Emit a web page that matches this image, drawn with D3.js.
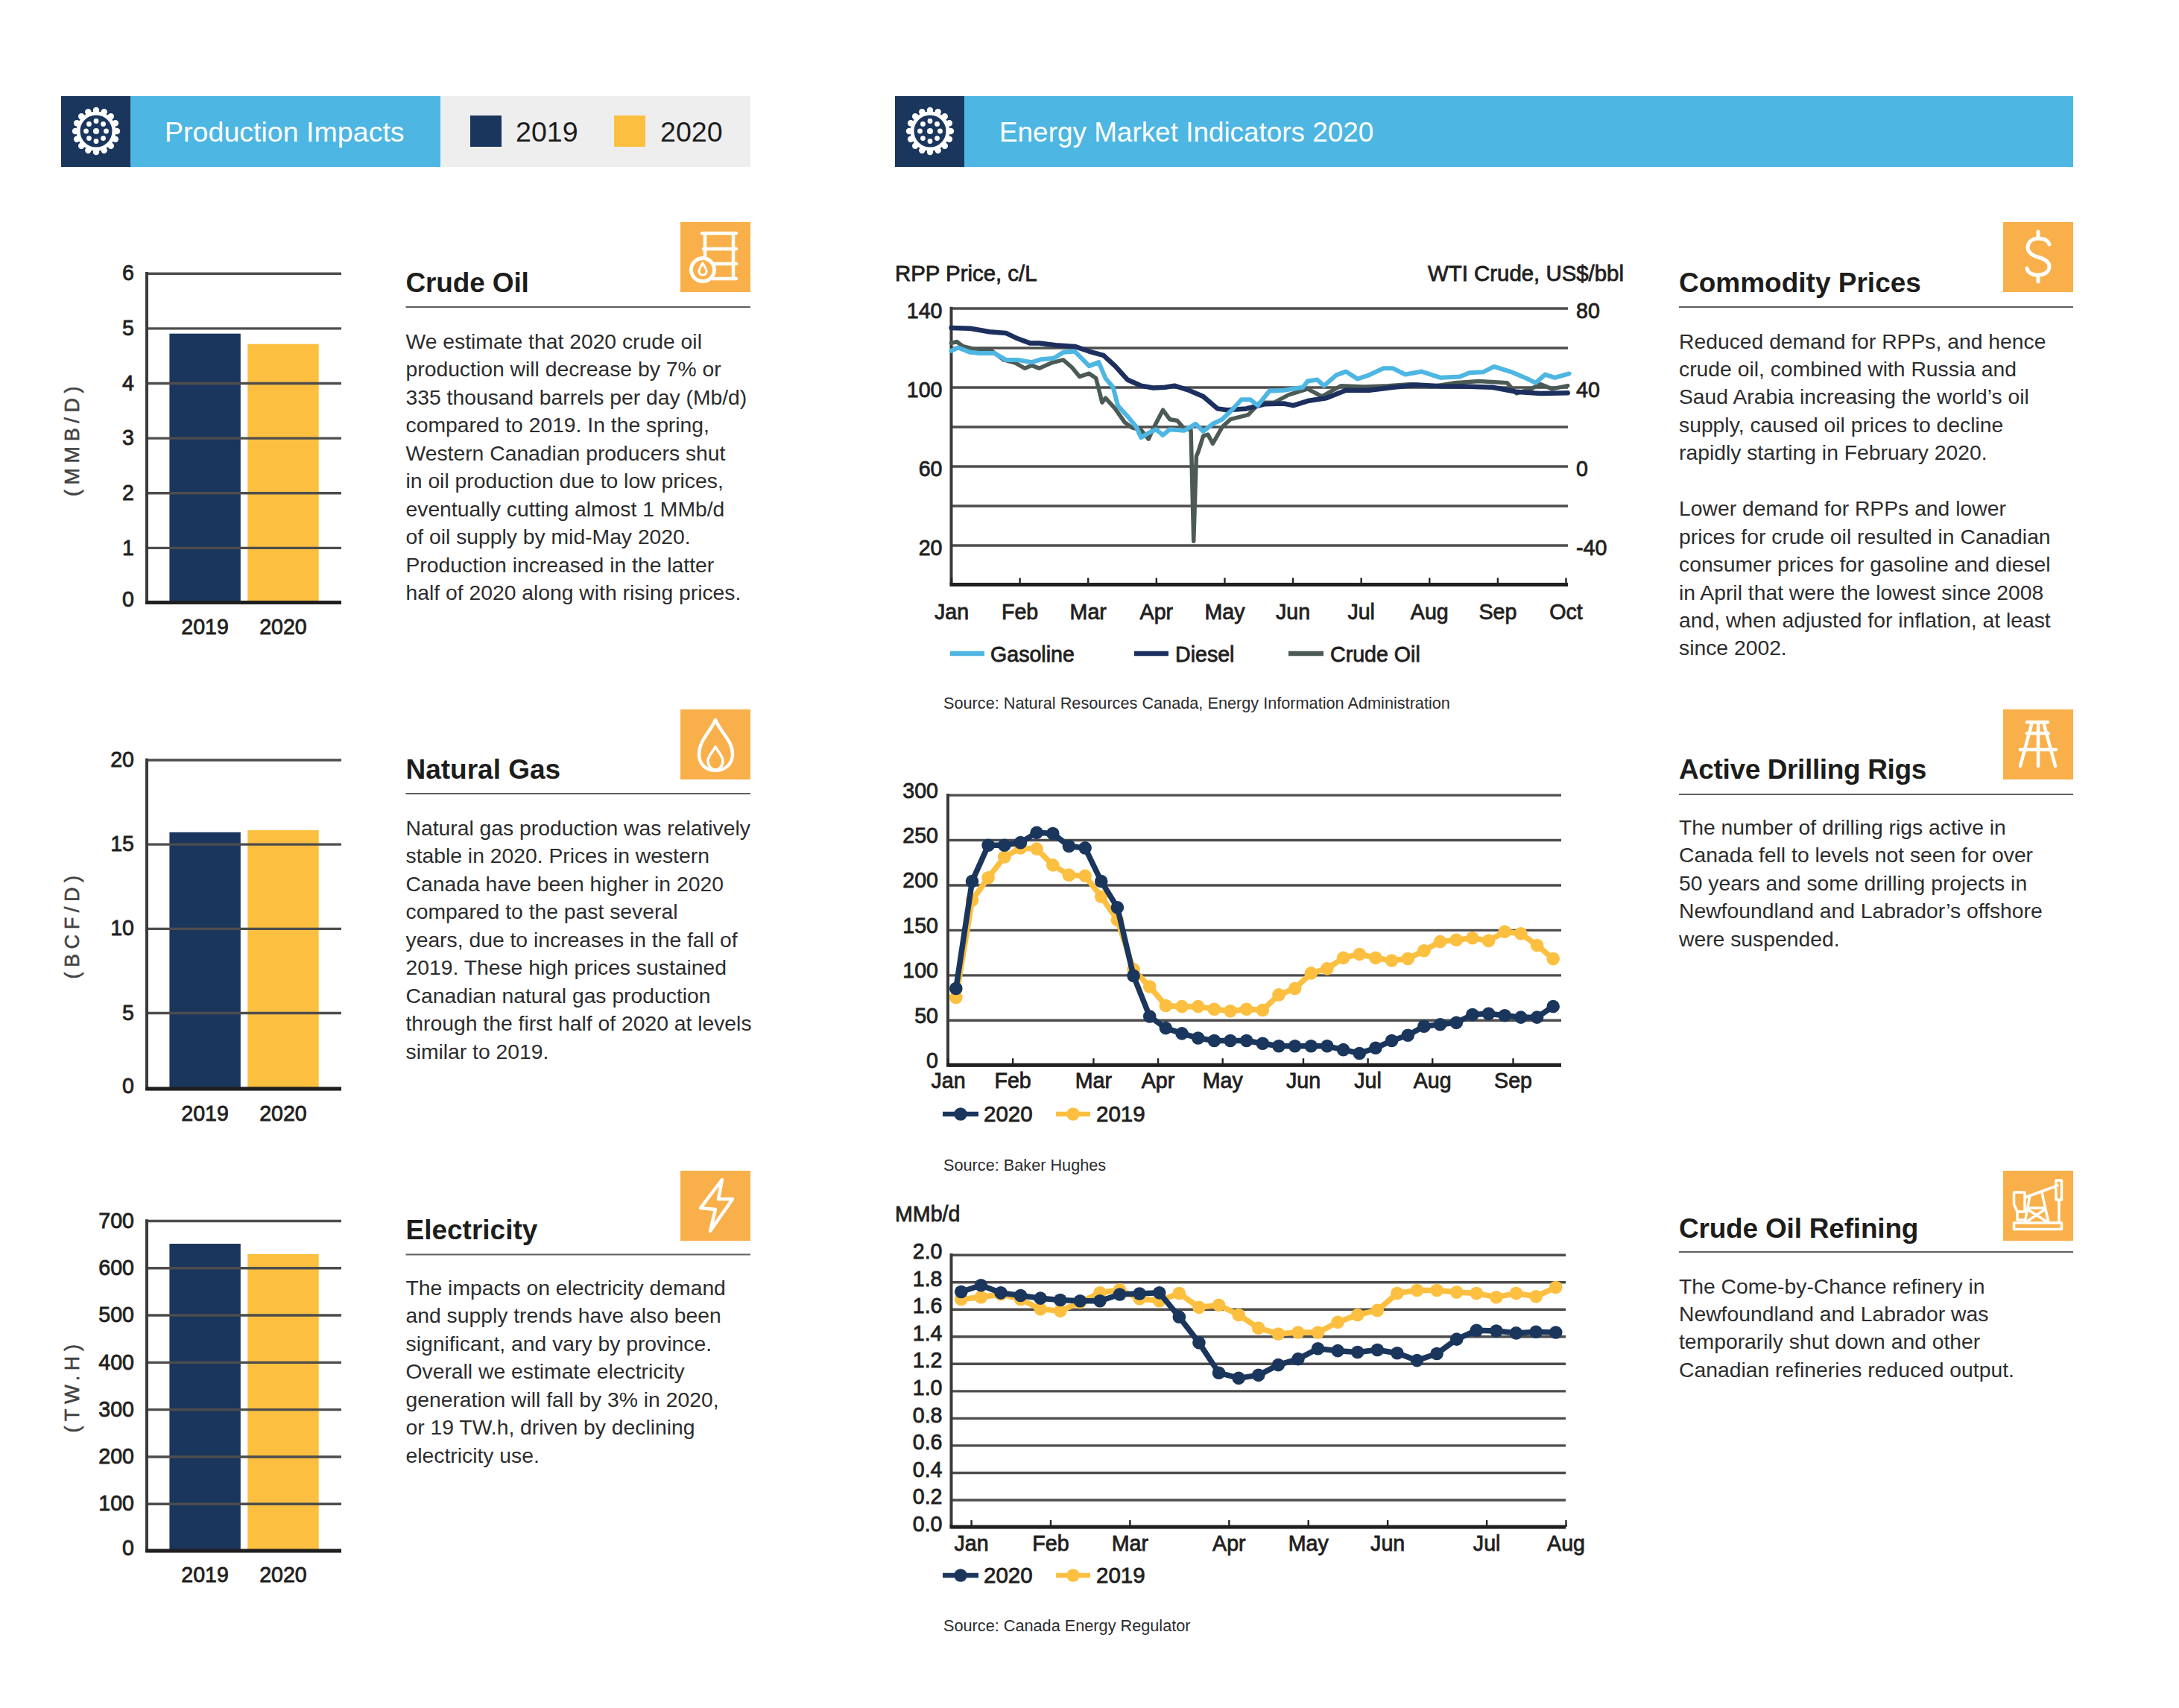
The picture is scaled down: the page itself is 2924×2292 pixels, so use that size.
<!DOCTYPE html>
<html>
<head>
<meta charset="utf-8">
<script src="https://cdn.jsdelivr.net/npm/d3@7"></script>
<style>
  body { margin: 0; background: #fff; }
  text { font-family: "Liberation Sans", Arial, sans-serif; }
  .tick text, .lab { font-size: 28.6px; fill: #231f20; stroke: #231f20; stroke-width: .8px; }
  .body { font-size: 28.3px; fill: #2c2c2c; }
  .title { font-size: 37px; font-weight: bold; fill: #1d1d1b; }
  .src { font-size: 21.7px; fill: #2c2c2c; }
  .head { font-size: 37.6px; fill: #fff; }
  .ico { fill: none; stroke: #fff; stroke-width: 4.5; stroke-linecap: round; stroke-linejoin: round; }
</style>
</head>
<body>
<svg id="page" width="2924" height="2292"></svg>
<script>
const NAVY = "#1b365d", GOLD = "#fcbf3f", BLUE = "#4db6e2", ORANGE = "#f9b04a", GRID = "#4d4d4d", CRUDE = "#4c5a55";

// bar panels
const barYears = ["2019", "2020"];
const oilBars = [4.9, 4.71];
const gasBars = [15.7, 15.82];
const powerBars = [651, 629];

// RPP prices: [month position, c/L], crude: [month position, US$/bbl]
const monthNames = ["Jan", "Feb", "Mar", "Apr", "May", "Jun", "Jul", "Aug", "Sep", "Oct"];
const gasoline = [[0,118.4],[.1,120],[.28,117.6],[.42,117.2],[.63,117.2],[.8,113.8],[.97,113.8],[1.18,112.6],[1.32,114.1],[1.5,114.6],[1.64,117.6],[1.81,118.1],[1.91,114.6],[2.02,110.7],[2.16,112.6],[2.26,104.5],[2.37,99.9],[2.44,90.7],[2.58,85.3],[2.71,79.9],[2.78,74.5],[2.89,76.8],[3,78.6],[3.1,75.7],[3.2,78.6],[3.41,78],[3.58,81.4],[3.69,77.6],[3.83,81.4],[3.97,83.7],[4.11,88.4],[4.25,93.7],[4.38,93.7],[4.49,90.7],[4.66,98.1],[4.87,98.4],[5.15,99.9],[5.22,103],[5.36,103.8],[5.46,100.7],[5.64,106.1],[5.78,107.9],[5.95,104.2],[6.12,106.1],[6.33,109.5],[6.47,109.5],[6.65,106.4],[6.89,107.9],[7.17,104.8],[7.45,105.3],[7.59,107.3],[7.79,107.6],[7.95,110.4],[8.21,107.6],[8.42,104.5],[8.56,102.2],[8.7,106.4],[8.84,104.8],[9.05,106.8]];
const diesel = [[0,130],[.28,129.7],[.56,128],[.8,127.4],[.97,124.6],[1.15,122.3],[1.29,122.3],[1.53,121.2],[1.81,120.6],[2.02,118.1],[2.23,116.1],[2.4,110.7],[2.58,103.8],[2.78,100.7],[2.96,99.6],[3.13,99.9],[3.27,100.7],[3.48,98.4],[3.69,95.3],[3.9,89.1],[4.04,88.4],[4.32,89.1],[4.59,91.4],[4.87,91.7],[5.01,90.7],[5.22,93],[5.5,94.5],[5.78,98.4],[6.12,98.4],[6.47,99.9],[6.82,101.1],[7.17,100.5],[7.52,100.4],[7.93,99.9],[8.28,97.6],[8.63,96.8],[9.03,97.1]];
const crudeOil = [[0,62.3],[.08,63],[.17,60.7],[.35,59.2],[.59,58.4],[.77,53.8],[.94,52.2],[1.08,49.5],[1.18,51],[1.29,49.5],[1.46,52.2],[1.64,53.8],[1.77,49.9],[1.88,45.3],[2.02,46.9],[2.12,44.5],[2.21,32.2],[2.26,34.5],[2.4,29.1],[2.54,22.2],[2.64,19.6],[2.78,18.3],[2.89,13.7],[2.96,19.1],[3.1,28.4],[3.2,23.7],[3.31,23],[3.41,19.1],[3.51,18.3],[3.55,-38],[3.59,5],[3.62,7.5],[3.69,15.2],[3.76,16],[3.83,11.4],[3.97,19.9],[4.09,23.7],[4.35,26],[4.52,32.2],[4.73,32.2],[4.94,36.1],[5.22,39.1],[5.43,35.3],[5.71,40.7],[6.05,40.2],[6.4,40.7],[6.75,41.5],[7.03,40.2],[7.38,42.2],[7.73,43],[8.14,42.2],[8.28,36.8],[8.49,39.1],[8.63,41.5],[8.8,39.1],[9.03,40.7]];

// active rigs, weekly
const rigs2020 = [85,204,244,244,247,258,257,243,241,204,175,99,54,41,35,30,27,27,27,24,21,21,21,21,17,13,19,27,33,43,45,47,56,57,55,53,53,65];
const rigs2019 = [75,183,208,231,241,240,222,211,210,187,161,106,87,66,65,65,62,60,62,61,78,85,102,107,119,123,119,116,118,127,137,139,141,138,148,146,133,118];
const rigMonths = ["Jan", "Feb", "Mar", "Apr", "May", "Jun", "Jul", "Aug", "Sep"];
const rigMonthWeeks = [0, 4, 9, 13, 17, 22, 26, 30, 35];

// refining runs
const ref2020 = [1.727,1.775,1.72,1.7,1.68,1.667,1.66,1.66,1.708,1.714,1.72,1.543,1.353,1.132,1.093,1.115,1.19,1.234,1.31,1.294,1.284,1.3,1.277,1.223,1.273,1.379,1.444,1.44,1.424,1.433,1.429];
const ref2019 = [1.673,1.688,1.71,1.673,1.6,1.587,1.65,1.72,1.742,1.677,1.66,1.716,1.613,1.63,1.558,1.461,1.418,1.429,1.429,1.504,1.558,1.591,1.716,1.738,1.738,1.725,1.716,1.688,1.716,1.693,1.76];
const refMonths = ["Jan", "Feb", "Mar", "Apr", "May", "Jun", "Jul", "Aug"];
const refMonthSteps = [1, 5, 9, 14, 18, 22, 27, 31];

// copy
const oilText = ["We estimate that 2020 crude oil", "production will decrease by 7% or", "335 thousand barrels per day (Mb/d)", "compared to 2019. In the spring,", "Western Canadian producers shut", "in oil production due to low prices,", "eventually cutting almost 1 MMb/d", "of oil supply by mid-May 2020.", "Production increased in the latter", "half of 2020 along with rising prices."];
const gasText = ["Natural gas production was relatively", "stable in 2020. Prices in western", "Canada have been higher in 2020", "compared to the past several", "years, due to increases in the fall of", "2019. These high prices sustained", "Canadian natural gas production", "through the first half of 2020 at levels", "similar to 2019."];
const powerText = ["The impacts on electricity demand", "and supply trends have also been", "significant, and vary by province.", "Overall we estimate electricity", "generation will fall by 3% in 2020,", "or 19 TW.h, driven by declining", "electricity use."];
const priceText = ["Reduced demand for RPPs, and hence", "crude oil, combined with Russia and", "Saud Arabia increasing the world’s oil", "supply, caused oil prices to decline", "rapidly starting in February 2020.", "", "Lower demand for RPPs and lower", "prices for crude oil resulted in Canadian", "consumer prices for gasoline and diesel", "in April that were the lowest since 2008", "and, when adjusted for inflation, at least", "since 2002."];
const rigText = ["The number of drilling rigs active in", "Canada fell to levels not seen for over", "50 years and some drilling projects in", "Newfoundland and Labrador’s offshore", "were suspended."];
const refText = ["The Come-by-Chance refinery in", "Newfoundland and Labrador was", "temporarily shut down and other", "Canadian refineries reduced output."];

const svg = d3.select("#page");

function label(x, y, txt, cls, anchor) {
  return svg.append("text").attr("x", x).attr("y", y).attr("class", cls)
    .attr("text-anchor", anchor || "start").text(txt);
}

// white gear on the navy header tile
function gear(x, y) {
  const g = svg.append("g").attr("transform", `translate(${x},${y})`);
  g.append("circle").attr("r", 24).attr("fill", "none").attr("stroke", "#fff").attr("stroke-width", 5);
  g.selectAll(".t").data(d3.range(16)).join("circle").attr("r", 4.2)
    .attr("cx", d => 28 * Math.cos(d * Math.PI / 8)).attr("cy", d => 28 * Math.sin(d * Math.PI / 8)).attr("fill", "#fff");
  g.selectAll(".i").data(d3.range(8)).join("circle").attr("r", 3.4)
    .attr("cx", d => 13.5 * Math.cos(d * Math.PI / 4)).attr("cy", d => 13.5 * Math.sin(d * Math.PI / 4)).attr("fill", "#fff");
  g.append("circle").attr("r", 4).attr("fill", "#fff");
}

function header() {
  svg.append("rect").attr("x", 82).attr("y", 129).attr("width", 93).attr("height", 95).attr("fill", NAVY);
  svg.append("rect").attr("x", 175).attr("y", 129).attr("width", 416).attr("height", 95).attr("fill", BLUE);
  svg.append("rect").attr("x", 591).attr("y", 129).attr("width", 416).attr("height", 95).attr("fill", "#eeeeee");
  gear(129, 176);
  label(221, 190, "Production Impacts", "head");
  svg.append("rect").attr("x", 631).attr("y", 155).attr("width", 42).attr("height", 42).attr("fill", NAVY);
  svg.append("rect").attr("x", 824).attr("y", 155).attr("width", 42).attr("height", 42).attr("fill", GOLD);
  label(692, 190, "2019", "head").style("fill", "#1d1d1b");
  label(886, 190, "2020", "head").style("fill", "#1d1d1b");

  svg.append("rect").attr("x", 1201).attr("y", 129).attr("width", 93).attr("height", 95).attr("fill", NAVY);
  svg.append("rect").attr("x", 1294).attr("y", 129).attr("width", 1488).attr("height", 95).attr("fill", BLUE);
  gear(1248, 176);
  label(1341, 190, "Energy Market Indicators 2020", "head").style("font-size", "36.9px");
}

const icons = {
  barrel(g) {
    g.append("path").attr("class", "ico").attr("d", "M29,15H75M31,36H75M46,56H75M44,76H75M33,15V46M71,15V76");
    g.append("circle").attr("class", "ico").attr("cx", 30).attr("cy", 64).attr("r", 15.5).style("stroke-width", 5);
    g.append("path").attr("class", "ico").attr("d", "M30,55C33,61 35,63 35,66C35,69 33,71 30,71C27,71 25,69 25,66C25,63 27,61 30,55Z").style("stroke-width", 3);
  },
  flame(g) {
    g.append("path").attr("class", "ico").attr("d", "M47,14C55,32 70,42 70,60C70,73 60,82 47,82C34,82 25,73 25,60C25,42 39,32 47,14Z");
    g.append("path").attr("class", "ico").attr("d", "M47,50C51,58 57,62 57,69C57,76 52,81 47,81C42,81 37,76 37,69C37,62 43,58 47,50Z").style("stroke-width", 3.5);
  },
  bolt(g) {
    g.append("path").attr("class", "ico").attr("d", "M56,12L27,50L47,52L40,81L70,38L51,38Z");
  },
  dollar(g) {
    g.append("path").attr("class", "ico").style("stroke-width", 5)
      .attr("d", "M62,30C60,24 54,22 47,22C38,22 33,28 33,34C33,42 40,45 47,47C54,49 62,52 62,60C62,67 55,71 47,71C39,71 33,68 32,62M47,13V22M47,71V80");
  },
  rig(g) {
    g.append("path").attr("class", "ico").attr("d", "M32,17H60M39,17L23,76M54,17L70,76M47,17V76M32,32H61M23,54H71");
  },
  pump(g) {
    g.append("path").attr("class", "ico").style("stroke-width", 3.5)
      .attr("d", "M14.5,70H78.5V78.5H14.5ZM29,36L73,20M71,13H78.5V39H71ZM14.5,29H29V55H19L14.5,45ZM36,33L29,70M52,29L61,70M33,52L58,68M56,52L32,68M35,50H56M75,39V70M19,55V66H29");
  }
};

// heading, rule, icon tile and paragraph for one text block
function block(x, baseline, rule, right, iconY, head, lines, iconName, lineOne, headSpacing) {
  label(x, baseline, head, "title").style("letter-spacing", (headSpacing || 0) + "px");
  svg.append("line").attr("x1", x).attr("x2", right).attr("y1", rule).attr("y2", rule).attr("stroke", "#5f5f5f").attr("stroke-width", 2);
  const tile = svg.append("g").attr("transform", `translate(${right - 94},${iconY})`);
  tile.append("rect").attr("width", 94).attr("height", 94).attr("fill", ORANGE);
  icons[iconName](tile);
  lines.forEach((t, i) => label(x, lineOne + i * 37.45, t, "body"));
}

function gridAxis(y, ticks, fmt, left, right, dy) {
  const g = svg.append("g").attr("transform", `translate(${left},0)`)
    .call(d3.axisLeft(y).tickValues(ticks).tickFormat(fmt).tickSizeInner(-(right - left)).tickSizeOuter(0).tickPadding(0));
  g.select(".domain").remove();
  g.selectAll(".tick line").attr("stroke", GRID).attr("stroke-width", 3.4);
  g.selectAll(".tick text").attr("dy", dy);
  return g;
}

function axisLines(left, right, top, bottom) {
  svg.append("line").attr("x1", left).attr("x2", left).attr("y1", top - 1.7).attr("y2", bottom).attr("stroke", "#3a3a3a").attr("stroke-width", 4);
  svg.append("line").attr("x1", left - 2).attr("x2", right).attr("y1", bottom).attr("y2", bottom).attr("stroke", "#1f1f1f").attr("stroke-width", 5);
}

function barPanel(values, yDomain, yRange, ticks, title, titleY, labelY) {
  const left = 197, right = 458;
  const x = d3.scaleBand().domain(barYears).range([222.7, 432.4]).paddingInner(.09).paddingOuter(.045);
  const y = d3.scaleLinear().domain(yDomain).range(yRange);
  svg.append("g").selectAll("rect").data(values).join("rect")
    .attr("x", (d, i) => x(barYears[i])).attr("width", x.bandwidth())
    .attr("y", d => y(d)).attr("height", d => y(0) - y(d))
    .attr("fill", (d, i) => i ? GOLD : NAVY);
  const g = gridAxis(y, ticks, d => d, left, right, ".32em");
  g.selectAll(".tick text").attr("x", -17).attr("dy", d => d === 0 ? "0.18em" : ".32em");
  axisLines(left, right, y.range()[y.range().length - 1], y(0));
  const xAxis = svg.append("g").attr("transform", `translate(0,${labelY})`)
    .call(d3.axisBottom(x).tickSize(0).tickPadding(0));
  xAxis.select(".domain").remove();
  xAxis.selectAll(".tick text").attr("dy", 0);
  svg.append("text").attr("class", "lab").attr("transform", `translate(106,${titleY}) rotate(-90)`)
    .attr("text-anchor", "middle").style("font-size", "27px").style("letter-spacing", "6.6px")
    .style("fill", "#444").style("stroke", "#444").style("stroke-width", ".6px").text(title);
}

function legendLine(x0, x1, y, color, r) {
  svg.append("line").attr("x1", x0).attr("x2", x1).attr("y1", y).attr("y2", y).attr("stroke", color).attr("stroke-width", 6.5);
  if (r) svg.append("circle").attr("cx", (x0 + x1) / 2).attr("cy", y).attr("r", r).attr("fill", color);
}

function priceChart() {
  const left = 1276.5, right = 2104;
  const x = d3.scaleLinear().domain([0, 9]).range([left, 2101]);
  const y = d3.scaleLinear().domain([0, 140]).range([784.5, 413.5]);
  const yRight = d3.scaleLinear().domain([-60, 80]).range([784.5, 413.5]);
  const shown = [140, 100, 60, 20];
  const g = gridAxis(y, [140, 120, 100, 80, 60, 40, 20, 0], d => shown.includes(d) ? d : "", left, right, "0.45em");
  g.selectAll(".tick text").attr("x", -12);

  const ra = svg.append("g").attr("transform", `translate(2115,0)`)
    .call(d3.axisRight(yRight).tickValues([80, 40, 0, -40]).tickFormat(d => String(d)).tickSize(0).tickPadding(0));
  ra.select(".domain").remove();
  ra.selectAll(".tick text").attr("dy", "0.45em");

  axisLines(left, right, 413.5, 784.5);
  const xa = svg.append("g").attr("transform", "translate(0,784.5)")
    .call(d3.axisBottom(x).tickValues(d3.range(10)).tickFormat(d => monthNames[d]).tickSizeInner(-9).tickSizeOuter(0).tickPadding(26.5));
  xa.select(".domain").remove();
  xa.selectAll(".tick line").attr("stroke", "#222").attr("stroke-width", 2.4);

  const rpp = d3.line().x(d => x(d[0])).y(d => y(d[1]));
  const wti = d3.line().x(d => x(d[0])).y(d => yRight(d[1]));
  const trace = (d, c, w) => svg.append("path").attr("d", d).attr("fill", "none").attr("stroke", c)
    .attr("stroke-width", w).attr("stroke-linejoin", "round").attr("stroke-linecap", "round");
  trace(wti(crudeOil), CRUDE, 5.5);
  trace(rpp(diesel), "#1c2f5e", 6.5);
  trace(rpp(gasoline), BLUE, 6);

  label(1201, 377, "RPP Price, c/L", "lab").style("font-size", "29.4px");
  label(2179, 377, "WTI Crude, US$/bbl", "lab", "end").style("font-size", "29.4px");
  legendLine(1275, 1321, 877, BLUE);
  label(1329, 887.5, "Gasoline", "lab");
  legendLine(1522, 1568, 877, "#1c2f5e");
  label(1577, 887.5, "Diesel", "lab");
  legendLine(1729, 1776, 877, CRUDE);
  label(1785, 887.5, "Crude Oil", "lab");
  label(1266, 951, "Source: Natural Resources Canada, Energy Information Administration", "src");
}

// weekly chart with dots; x runs over step edges so points sit mid-step
function dotChart(a, b, yDomain, yRange, ticks, fmt, left, right, months, monthSteps, opts) {
  const x = d3.scaleLinear().domain([0, a.length]).range([left, right]);
  const y = d3.scaleLinear().domain(yDomain).range(yRange);
  const g = gridAxis(y, ticks, fmt, left, right, opts.dy);
  g.selectAll(".tick text").attr("x", opts.labX);
  axisLines(left, right, yRange[1], yRange[0]);
  const xa = svg.append("g").attr("transform", `translate(0,${yRange[0]})`)
    .call(d3.axisBottom(x).tickValues(monthSteps).tickFormat((d, i) => months[i]).tickSizeInner(-9).tickSizeOuter(0).tickPadding(opts.pad));
  xa.select(".domain").remove();
  xa.selectAll(".tick line").attr("stroke", "#222").attr("stroke-width", 2.4);

  const line = d3.line().x((d, i) => x(i + .5)).y(d => y(d));
  [[b, GOLD], [a, NAVY]].forEach(([s, c]) => {
    svg.append("path").attr("d", line(s)).attr("fill", "none").attr("stroke", c).attr("stroke-width", 7.5).attr("stroke-linejoin", "round");
    svg.append("g").selectAll("circle").data(s).join("circle")
      .attr("cx", (d, i) => x(i + .5)).attr("cy", d => y(d)).attr("r", 8.8).attr("fill", c);
  });

  legendLine(1265, 1313, opts.legY, NAVY, 8.8);
  label(1320, opts.legY + 9.5, "2020", "lab").style("font-size", "29.5px");
  legendLine(1417, 1463, opts.legY, GOLD, 8.8);
  label(1471, opts.legY + 9.5, "2019", "lab").style("font-size", "29.5px");
  label(1266, opts.srcY, opts.src, "src");
}

header();

barPanel(oilBars, [0, 6], [808.5, 366.7], [0, 1, 2, 3, 4, 5, 6], "(MMB/D)", 589, 851);
barPanel(gasBars, [0, 5, 20], [1461, 1359, 1019.5], [0, 5, 10, 15, 20], "(BCF/D)", 1241, 1504);
barPanel(powerBars, [0, 700], [2081, 1638], [0, 100, 200, 300, 400, 500, 600, 700], "(TW.H)", 1860, 2123);

block(544.5, 392, 412, 1007, 298, "Crude Oil", oilText, "barrel", 468, -.15);
block(544.5, 1045, 1065, 1007, 952, "Natural Gas", gasText, "flame", 1121);
block(544.5, 1663, 1683.5, 1007, 1571, "Electricity", powerText, "bolt", 1738);
block(2253, 392, 412, 2782, 298, "Commodity Prices", priceText, "dollar", 467.5);
block(2253, 1045, 1066, 2782, 952, "Active Drilling Rigs", rigText, "rig", 1120, -.37);
block(2253, 1661, 1680, 2782, 1571, "Crude Oil Refining", refText, "pump", 1735.5, -.2);

priceChart();

dotChart(rigs2020, rigs2019, [0, 300], [1429.2, 1066.6], [0, 50, 100, 150, 200, 250, 300], d => d, 1272, 2095, rigMonths, rigMonthWeeks,
  { dy: "0.12em", labX: -13, pad: 11, legY: 1495, srcY: 1571, src: "Source: Baker Hughes" });

label(1201, 1639, "MMb/d", "lab");
dotChart(ref2020, ref2019, [0, 2], [2049, 1683.7], d3.range(0, 2.01, .2).map(d => +d.toFixed(1)), d3.format(".1f"), 1276.5, 2101, refMonths, refMonthSteps,
  { dy: "0.18em", labX: -12, pad: 11.5, legY: 2114, srcY: 2189, src: "Source: Canada Energy Regulator" });
</script>
</body>
</html>
